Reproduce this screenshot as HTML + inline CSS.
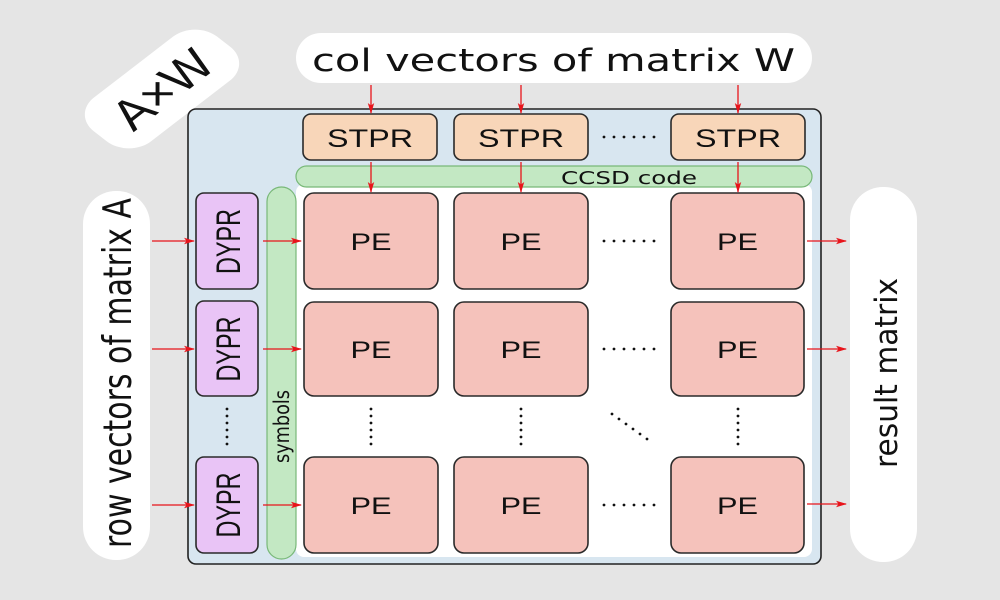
<!DOCTYPE html>
<html>
<head>
<meta charset="utf-8">
<style>
html,body{margin:0;padding:0;background:#e5e5e5;}
svg{display:block;}
</style>
</head>
<body>
<svg width="1000" height="600" viewBox="0 0 1000 600" xmlns="http://www.w3.org/2000/svg">
<defs>
<marker id="ah" markerWidth="11" markerHeight="8" refX="10" refY="4" orient="auto" markerUnits="userSpaceOnUse">
<path d="M0,0.8 L11,4 L0,7.2 L2.5,4 z" fill="#e8141b"/>
</marker>
</defs>
<rect width="1000" height="600" fill="#e5e5e5"/>

<!-- A×W label -->
<g transform="translate(162,89) scale(1.3,1) rotate(-45)">
<rect x="-67" y="-31" width="134" height="62" rx="24" fill="#ffffff"/>
<text x="0" y="15" text-anchor="middle" font-family="Liberation Sans, Arial, sans-serif" font-size="42" fill="#111">A×W</text>
</g>

<!-- col vectors label -->
<rect x="296" y="33" width="516" height="50" rx="25" fill="#ffffff"/>
<text x="312" y="71" font-family="DejaVu Sans, sans-serif" font-size="31" fill="#111" textLength="483" lengthAdjust="spacingAndGlyphs">col vectors of matrix W</text>

<!-- big blue box -->
<rect x="188" y="109" width="633" height="455" rx="8" fill="#d8e6f0" stroke="#222" stroke-width="1.6"/>
<!-- white inner area -->
<rect x="296" y="184" width="516" height="373" rx="8" fill="#ffffff"/>

<!-- STPR -->
<g font-family="Liberation Sans, Arial, sans-serif" font-size="25" fill="#111" text-anchor="middle">
<rect x="303" y="114" width="134" height="46" rx="8" fill="#f8d6b9" stroke="#2a2a2a" stroke-width="1.6"/>
<rect x="454" y="114" width="134" height="46" rx="8" fill="#f8d6b9" stroke="#2a2a2a" stroke-width="1.6"/>
<rect x="671" y="114" width="134" height="46" rx="8" fill="#f8d6b9" stroke="#2a2a2a" stroke-width="1.6"/>
<text x="370" y="147" textLength="86" lengthAdjust="spacingAndGlyphs">STPR</text>
<text x="521" y="147" textLength="86" lengthAdjust="spacingAndGlyphs">STPR</text>
<text x="738" y="147" textLength="86" lengthAdjust="spacingAndGlyphs">STPR</text>
</g>

<!-- CCSD code -->
<rect x="296" y="166" width="516" height="21" rx="10.5" fill="#c3e8c3" stroke="#78b878" stroke-width="1.2"/>
<text x="561" y="184" font-family="DejaVu Sans, sans-serif" font-size="18" fill="#111" textLength="136" lengthAdjust="spacingAndGlyphs">CCSD code</text>

<!-- symbols pill -->
<rect x="267" y="187" width="29" height="372" rx="14.5" fill="#c3e8c3" stroke="#78b878" stroke-width="1.2"/>
<text transform="translate(289,426.5) rotate(-90)" x="0" y="0" text-anchor="middle" font-family="DejaVu Sans, sans-serif" font-size="21" fill="#111" textLength="73" lengthAdjust="spacingAndGlyphs">symbols</text>

<!-- DYPR -->
<g font-family="Liberation Sans, Arial, sans-serif" font-size="34" fill="#111" text-anchor="middle">
<rect x="196" y="193" width="62" height="96" rx="8" fill="#e9c4f6" stroke="#2a2a2a" stroke-width="1.6"/>
<rect x="196" y="301" width="62" height="95" rx="8" fill="#e9c4f6" stroke="#2a2a2a" stroke-width="1.6"/>
<rect x="196" y="457" width="62" height="96" rx="8" fill="#e9c4f6" stroke="#2a2a2a" stroke-width="1.6"/>
<text transform="translate(240,241.5) rotate(-90)" x="0" y="0" textLength="65" lengthAdjust="spacingAndGlyphs">DYPR</text>
<text transform="translate(240,349) rotate(-90)" x="0" y="0" textLength="65" lengthAdjust="spacingAndGlyphs">DYPR</text>
<text transform="translate(240,505) rotate(-90)" x="0" y="0" textLength="65" lengthAdjust="spacingAndGlyphs">DYPR</text>
</g>

<!-- PE grid -->
<g fill="#f5c2bb" stroke="#2a2a2a" stroke-width="1.6">
<rect x="304" y="193" width="134" height="96" rx="10"/>
<rect x="454" y="193" width="134" height="96" rx="10"/>
<rect x="671" y="193" width="133" height="96" rx="10"/>
<rect x="304" y="302" width="134" height="94" rx="10"/>
<rect x="454" y="302" width="134" height="94" rx="10"/>
<rect x="671" y="302" width="133" height="94" rx="10"/>
<rect x="304" y="457" width="134" height="96" rx="10"/>
<rect x="454" y="457" width="134" height="96" rx="10"/>
<rect x="671" y="457" width="133" height="96" rx="10"/>
</g>
<g font-family="Liberation Sans, Arial, sans-serif" font-size="24" fill="#111" text-anchor="middle">
<text x="371" y="250" textLength="41" lengthAdjust="spacingAndGlyphs">PE</text>
<text x="521" y="250" textLength="41" lengthAdjust="spacingAndGlyphs">PE</text>
<text x="737.5" y="250" textLength="41" lengthAdjust="spacingAndGlyphs">PE</text>
<text x="371" y="358" textLength="41" lengthAdjust="spacingAndGlyphs">PE</text>
<text x="521" y="358" textLength="41" lengthAdjust="spacingAndGlyphs">PE</text>
<text x="737.5" y="358" textLength="41" lengthAdjust="spacingAndGlyphs">PE</text>
<text x="371" y="514" textLength="41" lengthAdjust="spacingAndGlyphs">PE</text>
<text x="521" y="514" textLength="41" lengthAdjust="spacingAndGlyphs">PE</text>
<text x="737.5" y="514" textLength="41" lengthAdjust="spacingAndGlyphs">PE</text>
</g>

<!-- left & right pills -->
<rect x="83" y="191" width="67" height="369" rx="33" fill="#ffffff"/>
<text transform="translate(131,373) rotate(-90)" x="0" y="0" text-anchor="middle" font-family="DejaVu Sans, sans-serif" font-size="39" fill="#111" textLength="350" lengthAdjust="spacingAndGlyphs">row vectors of matrix A</text>
<rect x="850" y="187" width="67" height="375" rx="33" fill="#ffffff"/>
<text transform="translate(897,373) rotate(-90)" x="0" y="0" text-anchor="middle" font-family="DejaVu Sans, sans-serif" font-size="31" fill="#111" textLength="190" lengthAdjust="spacingAndGlyphs">result matrix</text>

<!-- arrows -->
<g stroke="#e8141b" stroke-width="1.3" fill="none" marker-end="url(#ah)">
<line x1="371" y1="85" x2="371" y2="113"/>
<line x1="521" y1="85" x2="521" y2="113"/>
<line x1="738" y1="85" x2="738" y2="113"/>
<line x1="371" y1="162" x2="371" y2="192"/>
<line x1="521" y1="162" x2="521" y2="192"/>
<line x1="738" y1="162" x2="738" y2="192"/>
<line x1="152" y1="241" x2="194" y2="241"/>
<line x1="152" y1="349" x2="194" y2="349"/>
<line x1="152" y1="505" x2="194" y2="505"/>
<line x1="263" y1="241" x2="301" y2="241"/>
<line x1="263" y1="349" x2="301" y2="349"/>
<line x1="263" y1="505" x2="301" y2="505"/>
<line x1="807" y1="241" x2="846" y2="241"/>
<line x1="807" y1="349" x2="846" y2="349"/>
<line x1="807" y1="504" x2="846" y2="504"/>
</g>

<!-- dots -->
<g fill="#111">
<circle cx="604" cy="137" r="1.4"/><circle cx="614" cy="137" r="1.4"/><circle cx="624" cy="137" r="1.4"/><circle cx="634" cy="137" r="1.4"/><circle cx="644" cy="137" r="1.4"/><circle cx="654" cy="137" r="1.4"/>
<circle cx="604" cy="241" r="1.4"/><circle cx="614" cy="241" r="1.4"/><circle cx="624" cy="241" r="1.4"/><circle cx="634" cy="241" r="1.4"/><circle cx="644" cy="241" r="1.4"/><circle cx="654" cy="241" r="1.4"/>
<circle cx="604" cy="349" r="1.4"/><circle cx="614" cy="349" r="1.4"/><circle cx="624" cy="349" r="1.4"/><circle cx="634" cy="349" r="1.4"/><circle cx="644" cy="349" r="1.4"/><circle cx="654" cy="349" r="1.4"/>
<circle cx="604" cy="505" r="1.4"/><circle cx="614" cy="505" r="1.4"/><circle cx="624" cy="505" r="1.4"/><circle cx="634" cy="505" r="1.4"/><circle cx="644" cy="505" r="1.4"/><circle cx="654" cy="505" r="1.4"/>
<circle cx="227" cy="409" r="1.4"/><circle cx="227" cy="416" r="1.4"/><circle cx="227" cy="423" r="1.4"/><circle cx="227" cy="430" r="1.4"/><circle cx="227" cy="437" r="1.4"/><circle cx="227" cy="444" r="1.4"/>
<circle cx="371" cy="409" r="1.4"/><circle cx="371" cy="416" r="1.4"/><circle cx="371" cy="423" r="1.4"/><circle cx="371" cy="430" r="1.4"/><circle cx="371" cy="437" r="1.4"/><circle cx="371" cy="444" r="1.4"/>
<circle cx="521" cy="409" r="1.4"/><circle cx="521" cy="416" r="1.4"/><circle cx="521" cy="423" r="1.4"/><circle cx="521" cy="430" r="1.4"/><circle cx="521" cy="437" r="1.4"/><circle cx="521" cy="444" r="1.4"/>
<circle cx="738" cy="409" r="1.4"/><circle cx="738" cy="416" r="1.4"/><circle cx="738" cy="423" r="1.4"/><circle cx="738" cy="430" r="1.4"/><circle cx="738" cy="437" r="1.4"/><circle cx="738" cy="444" r="1.4"/>
<circle cx="612" cy="414" r="1.4"/><circle cx="619" cy="419" r="1.4"/><circle cx="626" cy="424" r="1.4"/><circle cx="633" cy="429" r="1.4"/><circle cx="640" cy="434" r="1.4"/><circle cx="647" cy="439" r="1.4"/>
</g>
</svg>
</body>
</html>
